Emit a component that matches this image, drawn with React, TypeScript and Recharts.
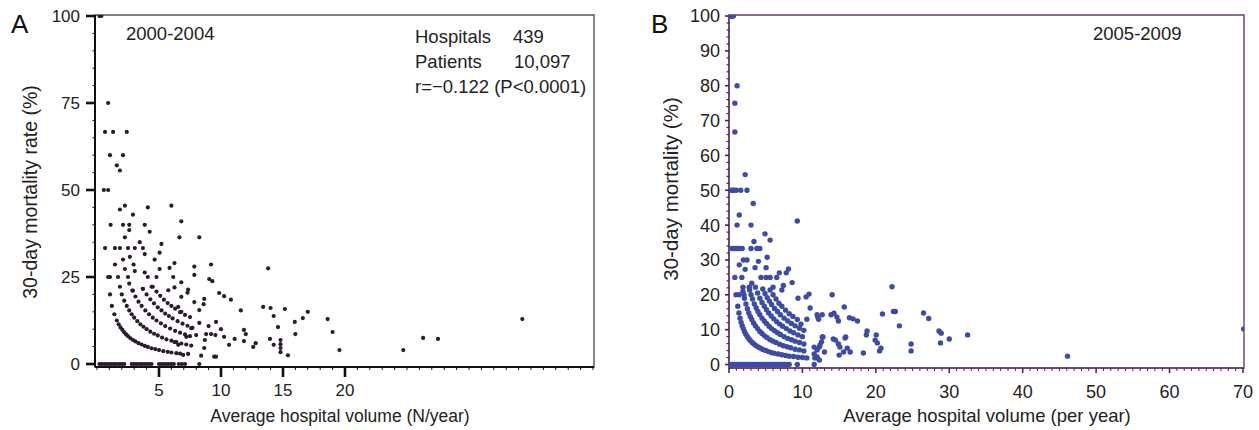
import React from 'react';
import { ScatterChart, Scatter, XAxis, YAxis, ReferenceArea } from 'recharts';

const FONT = '"Liberation Sans", Arial, Helvetica, sans-serif';

// ---------- Panel A : 2000-2004 ----------
const aScattered: [number, number][] = [
  [0.2, 100], [0.35, 100], [0.9, 75], [0.65, 66.7], [1.3, 66.7], [2.4, 66.7], [1.05, 60], [2.1, 60], [1.6, 57.1], [1.85, 55.6], [0.55, 50], [0.9, 50],
  [2.25, 45.5], [1.85, 44.4], [4.1, 45], [6.0, 45.5], [2.9, 42.9], [1.1, 40], [2.1, 40], [2.6, 40], [3.85, 40], [2.6, 38.5], [4.25, 38], [6.8, 41], [6.65, 36.4], [8.25, 36.4], [2.25, 36.4], [3.45, 35], [5.2, 34.5],
  [0.65, 33.3], [1.45, 33.3], [1.85, 33.3], [2.5, 33.3], [3.05, 33.3], [3.7, 33.3],
  [3.85, 31.6], [2.1, 30], [2.65, 30.8], [5.05, 32], [4.65, 30], [6.25, 29], [5.85, 27.6], [5.05, 27.3], [7.85, 28], [9.2, 28.6], [1.45, 28.6], [2.95, 28.6], [2.25, 27.3], [3.05, 26.7], [3.85, 26.3],
  [0.9, 25], [1.05, 25], [1.7, 25], [2.5, 25], [4.1, 25], [4.8, 25], [6.15, 25], [9.05, 24.4], [9.3, 23.8], [7.85, 25.6], [6.8, 23.5],
  [1.05, 20], [1.85, 22.2], [2.9, 21.1], [3.7, 21.6], [4.4, 22.2], [5.75, 21.2], [6.25, 22], [7.35, 21.4], [7.3, 20.5], [9.85, 20.4], [10.25, 19.5], [10.8, 18.5], [11.6, 15.4], [13.4, 16.4], [14.0, 16.1], [13.8, 27.5], [14.25, 13.8], [14.6, 10.6], [15.15, 15.8], [15.95, 12.1], [16.6, 13.2], [17.0, 15], [16.0, 8.6], [15.4, 2.5], [14.8, 6.9], [14.8, 5.7], [14.8, 4.6], [14.8, 3.4], [14.25, 5.5], [13.95, 7.2], [18.6, 12.9], [19.0, 9.2], [19.55, 4],
  [11.85, 9.8], [12.0, 8.6], [11.1, 7.2], [10.65, 5.5], [12.6, 4.9], [12.8, 6.0], [11.85, 6.6],
  [8.65, 18.7], [8.6, 17.2], [8.25, 15.5], [9.6, 12.1], [10.0, 10], [10.25, 7.8], [9.55, 8.3], [9.2, 8.6], [8.7, 6.9], [8.65, 4.6], [9.45, 2.1], [9.6, 2.1], [8.4, 2.4], [7.35, 2.9], [6.95, 2.6],
  [24.7, 4.0], [26.3, 7.5], [27.5, 7.2], [34.3, 12.9],
  [1.2, 16.7], [7.85, 17.8], [6.8, 19.3], [6.55, 16.4], [6.8, 15], [7.5, 13.5], [8.25, 11.8], [9.0, 10.9], [7.6, 10.3], [8.0, 8.3], [7.2, 7.8], [8.8, 8.6], [6.55, 5.5], [6.25, 6.3],
];
const aArcOneDeath: [number, number][] = [
  [1.4, 14.3], [1.6, 12.5], [1.75, 11.4], [1.9, 10.5], [2.05, 9.8], [2.2, 9.1], [2.35, 8.5], [2.5, 8], [2.7, 7.4], [2.9, 6.9], [3.1, 6.5], [3.35, 6], [3.6, 5.6], [3.85, 5.2], [4.1, 4.9], [4.4, 4.5], [4.7, 4.3], [5.0, 4.0], [5.35, 3.7], [5.7, 3.5], [6.0, 3.3], [6.4, 3.1], [6.7, 3.0],
];
const aArcTwoDeaths: [number, number][] = [
  [2.0, 20], [2.2, 18.2], [2.4, 16.7], [2.6, 15.4], [2.8, 14.3], [3.0, 13.3], [3.25, 12.3], [3.5, 11.4], [3.75, 10.7], [4.0, 10], [4.3, 9.3], [4.6, 8.7], [4.9, 8.2], [5.25, 7.6], [5.6, 7.1], [6.0, 6.7], [6.4, 6.3], [6.8, 5.9], [7.2, 5.6], [7.6, 5.3],
];
const aArcThreeDeaths: [number, number][] = [
  [2.6, 23.1], [2.85, 21.1], [3.1, 19.4], [3.35, 17.9], [3.6, 16.7], [3.9, 15.4], [4.2, 14.3], [4.5, 13.3], [4.8, 12.5], [5.15, 11.7], [5.5, 10.9], [5.9, 10.2], [6.3, 9.5], [6.7, 9.0], [7.1, 8.5], [7.5, 8.0],
];
const aArcFourDeaths: [number, number][] = [
  [3.7, 21.6], [4.0, 20], [4.3, 18.6], [4.6, 17.4], [4.9, 16.3], [5.2, 15.4], [5.5, 14.5], [5.8, 13.8], [6.1, 13.1], [6.5, 12.3], [6.9, 11.6], [7.3, 11], [7.7, 10.4],
];
const aArcFiveDeaths: [number, number][] = [
  [4.5, 22.2], [4.8, 20.8], [5.1, 19.6], [5.4, 18.5], [5.7, 17.5], [6.0, 16.7], [6.3, 15.9], [6.7, 14.9], [7.1, 14.1],
];
const aZeroRowX: number[] = [
  0.2, 0.4, 0.6, 0.8, 1.0, 1.2, 1.4, 1.6, 1.8, 2.0, 2.2, 2.8, 3.0, 3.2, 3.4, 3.6, 3.8, 4.0, 4.2, 4.4, 5.0, 5.2, 5.4, 5.6, 5.8, 6.0, 6.2, 6.6, 6.85, 7.1, 8.25,
];

// ---------- Panel B : 2005-2009 ----------
const bScattered: [number, number][] = [
  [0.15, 100], [0.3, 100], [0.45, 100], [0.6, 100], [1.1, 80], [0.8, 75], [0.8, 66.7], [2.2, 54.5], [0.3, 50], [0.55, 50], [0.75, 50], [1.0, 50], [1.6, 50], [2.45, 50], [3.3, 46.2], [1.4, 42.9], [1.1, 40], [3.0, 40], [9.3, 41.2], [4.9, 37.5], [5.6, 35.7], [3.4, 35.3],
  [0.4, 33.3], [0.7, 33.3], [0.95, 33.3], [1.2, 33.3], [1.4, 33.3], [1.8, 33.3], [3.0, 33.3], [3.8, 33.3], [4.2, 33.3],
  [5.2, 30.8], [4.0, 29.6], [1.95, 30], [2.45, 30], [1.4, 28.6], [2.2, 27.3], [3.55, 27.8], [5.05, 27.8], [6.85, 26.3], [7.8, 26.3], [8.1, 27.4], [8.6, 23.5], [7.4, 22.7],
  [0.8, 25], [1.75, 25], [4.35, 25], [5.05, 25], [5.6, 25], [6.5, 25],
  [3.1, 23.3], [2.75, 22.2], [1.9, 22.2], [6.0, 22.2], [7.2, 21.4],
  [0.95, 20], [1.4, 20], [2.05, 20], [9.4, 19], [10.5, 19.4], [10.9, 20.2], [14.05, 20],
  [11.05, 16.2], [15.7, 16.5], [22.2, 22.3], [22.4, 15.2], [22.65, 15.2], [26.5, 14.8], [27.2, 13.2], [20.9, 14.5], [17.5, 12.5], [16.4, 13.4], [14.7, 13.6], [14.9, 12.5], [13.9, 14.3], [12.7, 14.3], [12.0, 14.3], [12.2, 13.0], [10.6, 13.0], [9.8, 11.6], [23.2, 11.1], [18.8, 9.6], [18.7, 8.5], [20.05, 8.5], [19.9, 7.0], [20.2, 6.2], [20.7, 4.7], [20.5, 3.9], [18.3, 3.3], [24.8, 5.9], [24.8, 3.9], [28.6, 9.6], [28.9, 9.0], [28.8, 6.2], [30.0, 7.3], [32.5, 8.5], [46.1, 2.4], [70.1, 10.2],
  [14.5, 7.0], [14.2, 7.3], [14.9, 5.9], [15.1, 5.0], [15.0, 2.7], [15.6, 3.6], [15.9, 7.9], [16.1, 4.7], [16.5, 3.6], [15.8, 7.6], [12.7, 7.9], [12.4, 5.6], [12.0, 4.2], [13.0, 3.6], [11.6, 5.0], [12.0, 2.2], [11.6, 0],
  [16.9, 13.1], [14.3, 14.7], [12.1, 13.6], [12.8, 7.9], [12.6, 6.5], [12.3, 5.0], [11.7, 1.9], [12.3, 1.3], [11.6, 3.0],
];
const bArcOneDeath: [number, number][] = [
  [1.2, 16.7], [1.35, 14.8], [1.5, 13.3], [1.65, 12.1], [1.8, 11.1], [1.95, 10.3], [2.1, 9.5], [2.3, 8.7], [2.5, 8], [2.7, 7.4], [2.9, 6.9], [3.15, 6.3], [3.4, 5.9], [3.7, 5.4], [4.0, 5], [4.3, 4.7], [4.6, 4.3], [5.0, 4.0], [5.4, 3.7], [5.8, 3.4], [6.2, 3.2], [6.7, 3.0], [7.2, 2.8], [7.7, 2.6], [8.2, 2.4], [8.8, 2.3], [9.4, 2.1], [10.0, 2.0], [10.6, 1.9],
];
const bArcTwoDeaths: [number, number][] = [
  [1.9, 21], [2.1, 19], [2.3, 17.4], [2.5, 16], [2.7, 14.8], [2.9, 13.8], [3.1, 12.9], [3.35, 11.9], [3.6, 11.1], [3.9, 10.3], [4.2, 9.5], [4.5, 8.9], [4.85, 8.2], [5.2, 7.7], [5.6, 7.1], [6.0, 6.7], [6.4, 6.3], [6.9, 5.8], [7.4, 5.4], [7.9, 5.1], [8.4, 4.8], [9.0, 4.4], [9.6, 4.2], [10.2, 3.9],
];
const bArcThreeDeaths: [number, number][] = [
  [2.8, 21.4], [3.0, 20], [3.2, 18.8], [3.45, 17.4], [3.7, 16.2], [3.95, 15.2], [4.2, 14.3], [4.5, 13.3], [4.8, 12.5], [5.1, 11.8], [5.45, 11], [5.8, 10.3], [6.2, 9.7], [6.6, 9.1], [7.0, 8.6], [7.5, 8.0], [8.0, 7.5], [8.5, 7.1], [9.0, 6.7], [9.6, 6.3], [10.2, 5.9],
];
const bArcFourDeaths: [number, number][] = [
  [3.6, 22.2], [3.9, 20.5], [4.2, 19], [4.5, 17.8], [4.8, 16.7], [5.1, 15.7], [5.4, 14.8], [5.75, 13.9], [6.1, 13.1], [6.5, 12.3], [6.9, 11.6], [7.3, 11], [7.8, 10.3], [8.3, 9.6], [8.8, 9.1], [9.4, 8.5], [10.0, 8.0],
];
const bArcFiveDeaths: [number, number][] = [
  [4.6, 21.7], [4.9, 20.4], [5.2, 19.2], [5.5, 18.2], [5.8, 17.2], [6.2, 16.1], [6.6, 15.2], [7.0, 14.3], [7.5, 13.3], [8.0, 12.5], [8.5, 11.8], [9.0, 11.1], [9.6, 10.4], [10.2, 9.8],
];
const bArcSixDeaths: [number, number][] = [
  [5.6, 21.4], [6.0, 20], [6.4, 18.8], [6.8, 17.6], [7.2, 16.7], [7.7, 15.6], [8.2, 14.6], [8.7, 13.8], [9.3, 12.9],
];
const bZeroRowX: number[] = [
  0.1, 0.4, 0.7, 1.0, 1.3, 1.6, 1.9, 2.2, 2.5, 2.8, 3.1, 3.4, 3.7, 4.0, 4.3, 4.6, 4.9, 5.2, 5.5, 5.8, 6.1, 6.4, 6.7, 7.0, 7.3, 7.6, 7.9, 8.2, 9.3,
];

// ---------- Axis ticks ----------
const aXTicks = Array.from({ length: 41 }, (_, i) => i);
const aXLabels = [5, 10, 15, 20];
const aYTicks = Array.from({ length: 21 }, (_, i) => i * 5);
const aYLabels = [0, 25, 50, 75, 100];
const bXTicks = Array.from({ length: 71 }, (_, i) => i);
const bXLabels = [0, 10, 20, 30, 40, 50, 60, 70];
const bYTicks = Array.from({ length: 51 }, (_, i) => i * 2);
const bYLabels = [0, 10, 20, 30, 40, 50, 60, 70, 80, 90, 100];

const aXDomain: [number, number] = [-0.16, 40.08];
const aYDomain: [number, number] = [-0.86, 100.29];
const bXDomain: [number, number] = [0, 70.14];
const bYDomain: [number, number] = [-1.0, 100.29];

const toPoints = (groups: [number, number][][], zeroX: number[]) =>
  [...groups.flat(), ...zeroX.map((x) => [x, 0] as [number, number])].map(([x, y]) => ({ x, y }));

const panelAData = toPoints([aScattered, aArcOneDeath, aArcTwoDeaths, aArcThreeDeaths, aArcFourDeaths, aArcFiveDeaths], aZeroRowX);
const panelBData = toPoints([bScattered, bArcOneDeath, bArcTwoDeaths, bArcThreeDeaths, bArcFourDeaths, bArcFiveDeaths, bArcSixDeaths], bZeroRowX);

type TickOpts = { labels: number[]; color: string; majorLen: number; minorLen: number; majorW: number; minorW: number; labelOff: number; fontSize: number };

const makeXTick = (o: TickOpts) => (props: any) => {
  const { x, y, payload } = props;
  const v = payload.value;
  const major = o.labels.includes(v);
  return (
    <g>
      <line x1={x} x2={x} y1={y} y2={y + (major ? o.majorLen : o.minorLen)} stroke={o.color} strokeWidth={major ? o.majorW : o.minorW} />
      {major && (
        <text x={x} y={y + o.labelOff} textAnchor="middle" fontSize={o.fontSize} fontFamily={FONT} fill="#222">
          {v}
        </text>
      )}
    </g>
  );
};

const makeYTick = (o: TickOpts) => (props: any) => {
  const { x, y, payload } = props;
  const v = payload.value;
  const major = o.labels.includes(v);
  return (
    <g>
      <line x1={x} x2={x - (major ? o.majorLen : o.minorLen)} y1={y} y2={y} stroke={o.color} strokeWidth={major ? o.majorW : o.minorW} />
      {major && (
        <text x={x - o.labelOff} y={y} dy="0.36em" textAnchor="end" fontSize={o.fontSize} fontFamily={FONT} fill="#222">
          {v}
        </text>
      )}
    </g>
  );
};

const aXTick = makeXTick({ labels: aXLabels, color: '#111', majorLen: 10, minorLen: 3, majorW: 2.6, minorW: 1, labelOff: 29, fontSize: 17 });
const aYTick = makeYTick({ labels: aYLabels, color: '#111', majorLen: 9, minorLen: 2.5, majorW: 2.6, minorW: 1, labelOff: 15, fontSize: 17 });
const bXTick = makeXTick({ labels: bXLabels, color: '#4a2a5a', majorLen: 5, minorLen: 3, majorW: 1.6, minorW: 1, labelOff: 30, fontSize: 18 });
const bYTick = makeYTick({ labels: bYLabels, color: '#3a2a40', majorLen: 4, minorLen: 2.5, majorW: 1.6, minorW: 1.2, labelOff: 9, fontSize: 18 });

const darkDot = (p: any) => <circle cx={p.cx} cy={p.cy} r={2.1} fill="#2b1b2d" />;
const blueDot = (p: any) => <circle cx={p.cx} cy={p.cy} r={2.7} fill="#3c4ba6" />;

export default function App() {
  const textStyle = { fontFamily: FONT, fill: '#222' } as const;
  return (
    <div style={{ position: 'absolute', left: 0, top: 0, width: 1259, height: 430, background: '#fff' }}>
      <div style={{ position: 'absolute', left: 0, top: 0 }}>
        <ScatterChart width={620} height={430} margin={{ top: 15, right: 26, bottom: 0, left: 0 }}>
          <ReferenceArea x1={aXDomain[0]} x2={aXDomain[1]} y1={aYDomain[0]} y2={aYDomain[1]} fill="none" stroke="#555" strokeWidth={1.4} ifOverflow="visible" />
          <XAxis type="number" dataKey="x" domain={aXDomain} allowDataOverflow ticks={aXTicks} interval={0} tick={aXTick} tickLine={false} tickSize={0} tickMargin={0} axisLine={{ stroke: '#111', strokeWidth: 2 }} height={63} />
          <YAxis type="number" dataKey="y" domain={aYDomain} allowDataOverflow ticks={aYTicks} interval={0} tick={aYTick} tickLine={false} tickSize={0} tickMargin={0} axisLine={{ stroke: '#111', strokeWidth: 2 }} width={95} />
          <Scatter data={panelAData} shape={darkDot} isAnimationActive={false} />
        </ScatterChart>
      </div>
      <div style={{ position: 'absolute', left: 640, top: 0 }}>
        <ScatterChart width={619} height={430} margin={{ top: 15, right: 15, bottom: 0, left: 0 }}>
          <ReferenceArea x1={bXDomain[0]} x2={bXDomain[1]} y1={bYDomain[0]} y2={bYDomain[1]} fill="none" stroke="#6a3d7a" strokeWidth={1.4} ifOverflow="visible" />
          <XAxis type="number" dataKey="x" domain={bXDomain} allowDataOverflow ticks={bXTicks} interval={0} tick={bXTick} tickLine={false} tickSize={0} tickMargin={0} axisLine={{ stroke: '#6a3d7a', strokeWidth: 1.6 }} height={62} />
          <YAxis type="number" dataKey="y" domain={bYDomain} allowDataOverflow ticks={bYTicks} interval={0} tick={bYTick} tickLine={false} tickSize={0} tickMargin={0} axisLine={{ stroke: '#6a3d7a', strokeWidth: 1.6 }} width={89} />
          <Scatter data={panelBData} shape={blueDot} isAnimationActive={false} />
        </ScatterChart>
      </div>
      <svg width={1259} height={430} style={{ position: 'absolute', left: 0, top: 0, pointerEvents: 'none' }}>
        <text x={11} y={33} fontSize={26} {...textStyle} fill="#111">A</text>
        <text x={651} y={33} fontSize={26} {...textStyle} fill="#111">B</text>
        <text x={126} y={39.5} fontSize={18.5} {...textStyle}>2000-2004</text>
        <text x={415} y={43} fontSize={18.5} {...textStyle}>Hospitals</text>
        <text x={513} y={43} fontSize={18.5} {...textStyle}>439</text>
        <text x={415} y={68} fontSize={18.5} {...textStyle}>Patients</text>
        <text x={514} y={68} fontSize={18.5} {...textStyle}>10,097</text>
        <text x={415} y={93} fontSize={18.5} {...textStyle}>r=−0.122 (P&lt;0.0001)</text>
        <text x={1093} y={39.5} fontSize={18.5} {...textStyle}>2005-2009</text>
        <text transform="translate(37,192) rotate(-90)" textAnchor="middle" fontSize={19.5} {...textStyle}>30-day mortality rate (%)</text>
        <text transform="translate(678,189) rotate(-90)" textAnchor="middle" fontSize={20.5} {...textStyle}>30-day mortality (%)</text>
        <text x={340} y={422} textAnchor="middle" fontSize={17.5} {...textStyle}>Average hospital volume (N/year)</text>
        <text x={987} y={422} textAnchor="middle" fontSize={18.5} {...textStyle}>Average hospital volume (per year)</text>
      </svg>
    </div>
  );
}
